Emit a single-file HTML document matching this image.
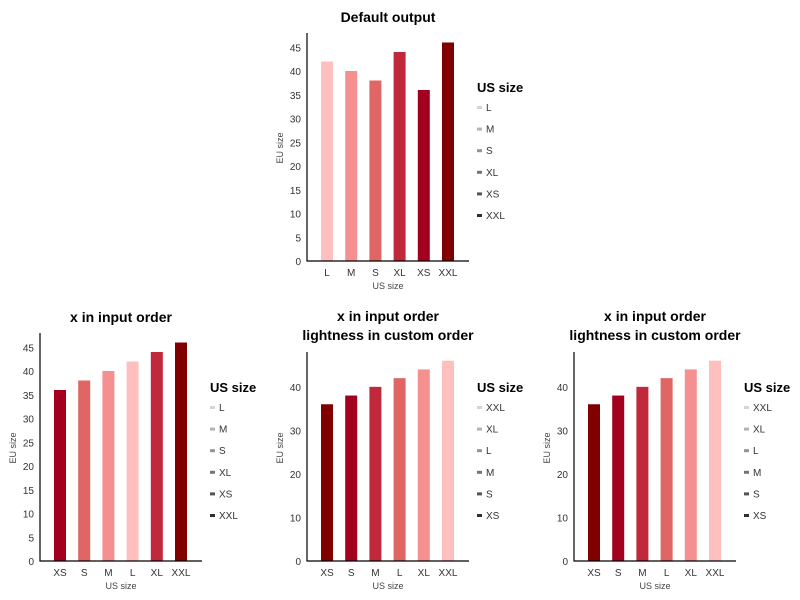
<!DOCTYPE html>
<html><head><meta charset="utf-8">
<style>
body{margin:0;background:#fff;}
svg{display:block;font-family:"Liberation Sans",sans-serif;}
</style></head>
<body>
<svg id="c" width="800" height="600" viewBox="0 0 800 600"></svg>
<script>
const colorL="#ffbfbf", colorM="#f59090", colorS="#e06565", colorXL="#c0283c", colorXS="#a3001f", colorXXL="#800000";
const titles1=["Default output"];
const titles2=["x in input order"];
const titles3=["x in input order","lightness in custom order"];
const cats1=["L","M","S","XL","XS","XXL"];
const vals1=[42,40,38,44,36,46];
const cols1=[colorL,colorM,colorS,colorXL,colorXS,colorXXL];
const cats2=["XS","S","M","L","XL","XXL"];
const vals2=[36,38,40,42,44,46];
const cols2=[colorXS,colorS,colorM,colorL,colorXL,colorXXL];
const cols3=[colorXXL,colorXS,colorXL,colorS,colorM,colorL];
const legend1=["L","M","S","XL","XS","XXL"];
const legend3=["XXL","XL","L","M","S","XS"];
const ticks5=[0,5,10,15,20,25,30,35,40,45];
const ticks10=[0,10,20,30,40];
const legendGrays=["#d4d4d4","#b4b4b4","#949494","#747474","#545454","#303030"];
const yMax=48;
const NS="http://www.w3.org/2000/svg";
const svg=document.getElementById("c");
function el(tag,attrs,parent,text){const e=document.createElementNS(NS,tag);for(const k in attrs)e.setAttribute(k,attrs[k]);if(text!==undefined)e.textContent=text;(parent||svg).appendChild(e);return e;}
function panel(id,ox,base,titles,cats,vals,cols,ticks,leg){
  const g=el("g",{});
  
  
  const H=titles.length===1?228:209;
  const left=ox, right=ox+162, top=base-H;
  const y=v=>base-v/yMax*H;
  const x=i=>left+20+i*24.2;
  titles.forEach((t,i)=>{const tt=el("text",{x:left+81,y:(titles.length===1?base-239:base-240)+i*19,"text-anchor":"middle","font-size":14,"font-weight":"bold",fill:"#000"},g,t);
    
    });
  vals.forEach((v,i)=>{const r=el("rect",{x:x(i)-6,y:y(v),width:12,height:base-y(v),fill:cols[i]},g);
    
    
    const xl=el("text",{x:x(i),y:base+15,"text-anchor":"middle","font-size":10,fill:"#333"},g,cats[i]);
    
    });
  ticks.forEach(t=>{const tl=el("text",{x:left-6,y:y(t)+4,"text-anchor":"end","font-size":10,fill:"#333"},g,t);
    
    });
  const ax=el("path",{d:`M${left} ${top}V${base}H${right}`,stroke:"#000","stroke-width":1.2,fill:"none"},g);
  
  
  const xt=el("text",{x:left+81,y:base+28,"text-anchor":"middle","font-size":9,fill:"#444"},g,"US size");
  
  
  const yx=left-24, yy=base-113;
  const yt=el("text",{x:yx,y:yy,"text-anchor":"middle","font-size":9,fill:"#444",transform:`rotate(-90 ${yx} ${yy})`},g,"EU size");
  
  
  const lx=left+170, ly=base-169;
  const lt=el("text",{x:lx,y:ly,"font-size":13,"font-weight":"bold",fill:"#000"},g,"US size");
  
  
  leg.forEach((n,i)=>{const ey=ly+16+i*21.6;
    const ge=el("g",{},g);
    
    
    el("rect",{x:lx,y:ey-2,width:5,height:3,fill:legendGrays[i]},ge);
    el("text",{x:lx+9,y:ey+3,"font-size":10,fill:"#333"},ge,n);});
}
panel("panel-default-output",307,261,titles1,cats1,vals1,cols1,ticks5,legend1);
panel("panel-input-order",40,561,titles2,cats2,vals2,cols2,ticks5,legend1);
panel("panel-custom-lightness-1",307,561,titles3,cats2,vals2,cols3,ticks10,legend3);
panel("panel-custom-lightness-2",574,561,titles3,cats2,vals2,cols3,ticks10,legend3);
</script>
</body></html>
